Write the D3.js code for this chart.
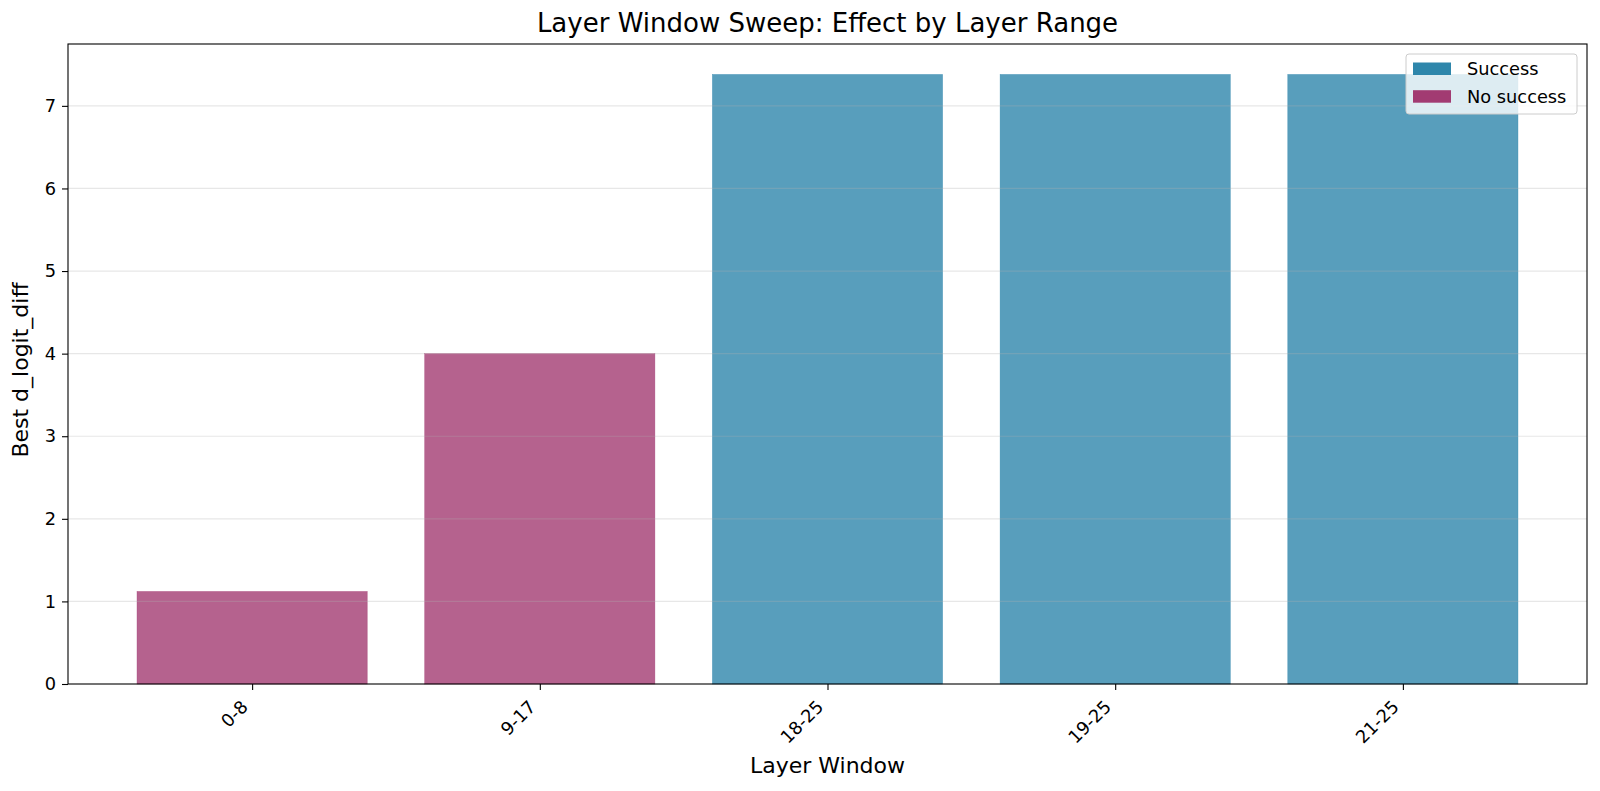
<!DOCTYPE html>
<html>
<head>
<meta charset="utf-8">
<script src="https://cdn.jsdelivr.net/npm/d3@7"></script>
<style>
  body { margin: 0; background: #fff; }
  svg { display: block; font-family: "DejaVu Sans", sans-serif; }
</style>
</head>
<body>
<svg id="chart" width="1600" height="791"></svg>
<script>
const categories = ["0-8", "9-17", "18-25", "19-25", "21-25"];
const values = [1.12, 4.0, 7.38, 7.38, 7.38];
const success = [false, false, true, true, true];
const yTicks = [0, 1, 2, 3, 4, 5, 6, 7];
const legendLabels = ["Success", "No success"];

const colSuccess = "#2E86AB";
const colFail = "#A23B72";

(function () {
const svg = d3.select("#chart");
const mLeft = 68, mRight = 1587, mTop = 44, mBottom = 684;
const tickFont = "17.8px";

const x = d3.scaleLinear().domain([-0.64, 4.64]).range([mLeft, mRight]);
const y = d3.scaleLinear().domain([0, 7.749]).range([mBottom, mTop]);

// bars
svg.append("g").selectAll("rect").data(categories).join("rect")
  .attr("x", (d, i) => x(i - 0.4))
  .attr("width", (d, i) => x(i + 0.4) - x(i - 0.4))
  .attr("y", (d, i) => y(values[i]))
  .attr("height", (d, i) => y(0) - y(values[i]))
  .attr("fill", (d, i) => success[i] ? colSuccess : colFail)
  .attr("fill-opacity", 0.8)
  .attr("stroke", (d, i) => success[i] ? colSuccess : colFail)
  .attr("stroke-opacity", 0.8)
  .attr("stroke-width", 0.5);

// grid (drawn on top, light)
svg.append("g").selectAll("line").data(yTicks.filter(t => t > 0)).join("line")
  .attr("x1", mLeft).attr("x2", mRight)
  .attr("y1", d => y(d)).attr("y2", d => y(d))
  .attr("stroke", "#b0b0b0").attr("stroke-opacity", 0.3).attr("stroke-width", 1.2);

// y axis
const yAxis = d3.axisLeft(y).tickValues(yTicks).tickFormat(d3.format("d")).tickSize(6).tickPadding(6);
const gy = svg.append("g").attr("transform", `translate(${mLeft},0)`).call(yAxis);
gy.select(".domain").remove();
gy.selectAll("text").attr("font-size", tickFont).attr("fill", "#000").attr("font-family", "DejaVu Sans");
gy.selectAll("line").attr("stroke", "#000").attr("stroke-width", 1.1);

// x axis
const xAxis = d3.axisBottom(x).tickValues(d3.range(categories.length)).tickFormat(i => categories[i]).tickSize(6);
const gx = svg.append("g").attr("transform", `translate(0,${mBottom})`).call(xAxis);
gx.select(".domain").remove();
gx.selectAll("line").attr("stroke", "#000").attr("stroke-width", 1.1);
gx.selectAll("text")
  .attr("font-size", tickFont).attr("fill", "#000").attr("font-family", "DejaVu Sans")
  .attr("text-anchor", "end")
  .attr("x", 0).attr("y", 0).attr("dy", 0)
  .attr("transform", "translate(-3.5,24) rotate(-45)");

// frame
svg.append("rect").attr("x", mLeft).attr("y", mTop).attr("width", mRight - mLeft).attr("height", mBottom - mTop)
  .attr("fill", "none").attr("stroke", "#000").attr("stroke-width", 1.1);

// title & labels
svg.append("text").attr("x", (mLeft + mRight) / 2).attr("y", 31.5).attr("text-anchor", "middle")
  .attr("font-size", "26px").attr("fill", "#000").text("Layer Window Sweep: Effect by Layer Range");
svg.append("text").attr("x", (mLeft + mRight) / 2).attr("y", 772.5).attr("text-anchor", "middle")
  .attr("font-size", "22px").attr("fill", "#000").text("Layer Window");
svg.append("text").attr("transform", `translate(27.5,${(mTop + mBottom) / 2 + 6}) rotate(-90)`).attr("text-anchor", "middle")
  .attr("font-size", "22px").attr("fill", "#000").text("Best d_logit_diff");

// legend
const lg = svg.append("g");
lg.append("rect").attr("x", 1406).attr("y", 54).attr("width", 171).attr("height", 60).attr("rx", 3)
  .attr("fill", "#fff").attr("fill-opacity", 0.8).attr("stroke", "#cccccc").attr("stroke-width", 1);
const lcols = [colSuccess, colFail];
legendLabels.forEach((l, i) => {
  lg.append("rect").attr("x", 1413).attr("y", 62.5 + i * 27.7).attr("width", 38).attr("height", 12.5)
    .attr("fill", lcols[i]);
  lg.append("text").attr("x", 1467).attr("y", 75 + i * 27.7).attr("font-size", tickFont).attr("fill", "#000").text(l);
});
})();
</script>
</body>
</html>
